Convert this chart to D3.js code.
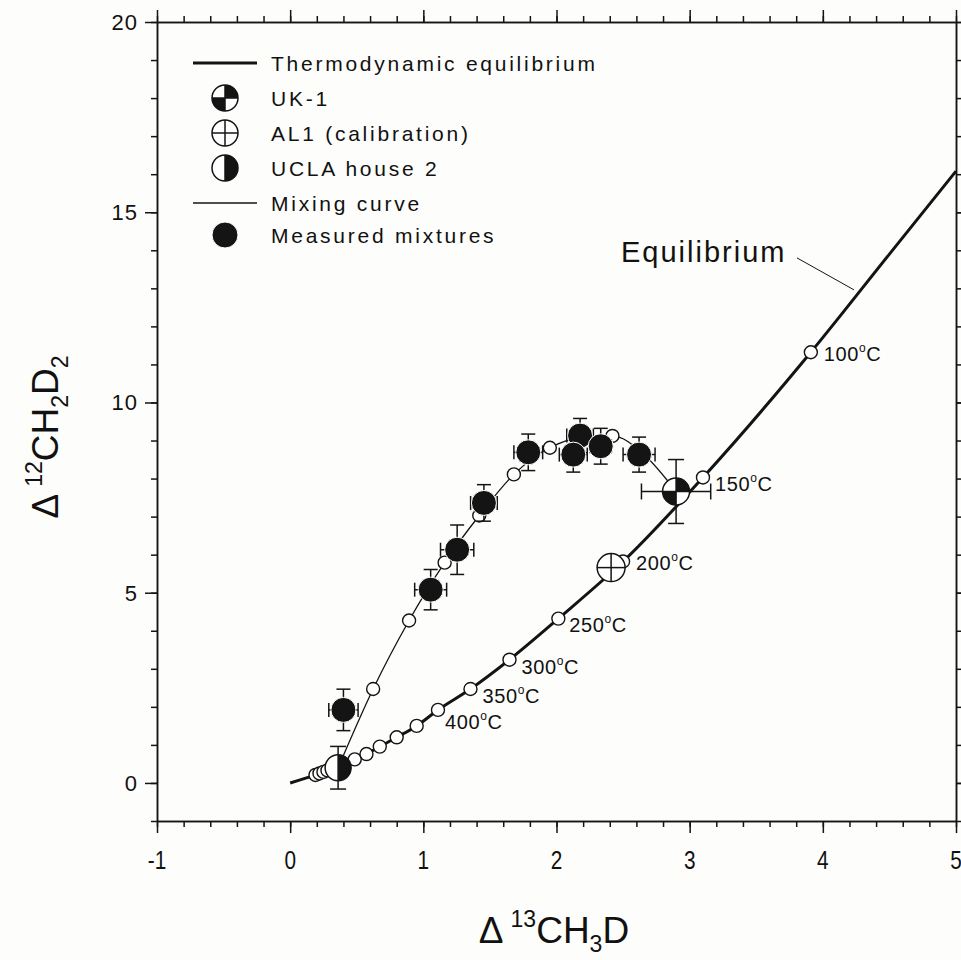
<!DOCTYPE html>
<html>
<head>
<meta charset="utf-8">
<script src="https://cdn.jsdelivr.net/npm/d3@7"></script>
<style>
  html, body { margin: 0; padding: 0; background: #fdfdfb; }
  svg { display: block; }
  text { font-family: Arial, "Liberation Sans", sans-serif; fill: #111; }
</style>
</head>
<body>
<svg id="chart" width="961" height="960"></svg>
<script>
// ---- Data -------------------------------------------------------------
// Thermodynamic equilibrium curve (Δ13CH3D, Δ12CH2D2)
const eqLineX = [0, 0.19, 0.25, 0.40, 0.485, 0.573, 0.673, 0.80, 0.95, 1.11, 1.354, 1.647, 2.014, 2.50, 3.10, 3.91, 4.5, 5.0];
const eqLineY = [0, 0.21, 0.29, 0.49, 0.62, 0.76, 0.955, 1.2, 1.5, 1.92, 2.47, 3.24, 4.32, 5.82, 8.03, 11.32, 13.9, 16.08];

// Temperature points on the equilibrium curve
const eqPtX = [3.91, 3.10, 2.50, 2.014, 1.647, 1.354, 1.11, 0.95, 0.80, 0.673, 0.573, 0.485, 0.40, 0.28, 0.25, 0.22, 0.19];
const eqPtY = [11.32, 8.03, 5.82, 4.32, 3.24, 2.47, 1.92, 1.5, 1.2, 0.955, 0.76, 0.62, 0.49, 0.33, 0.29, 0.25, 0.21];
const eqPtLabel = ["100", "150", "200", "250", "300", "350", "400", "", "", "", "", "", "", "", "", "", ""];

// Mixing curve between UCLA house 2 and UK-1
const mixX = [0.36, 0.623, 0.893, 1.16, 1.42, 1.68, 1.95, 2.19, 2.42, 2.66, 2.898];
const mixY = [0.40, 2.47, 4.27, 5.79, 7.03, 8.11, 8.81, 9.08, 9.12, 8.62, 7.66];

// Measured mixtures with 1σ errors
const measX    = [0.40, 1.055, 1.254, 1.455, 1.788, 2.177, 2.126, 2.332, 2.62];
const measY    = [1.92, 5.08, 6.13, 7.36, 8.69, 9.13, 8.63, 8.85, 8.63];
const measErrX = [0.11, 0.12, 0.125, 0.10, 0.108, 0.10, 0.105, 0.08, 0.12];
const measErrY = [0.545, 0.53, 0.65, 0.48, 0.48, 0.45, 0.46, 0.47, 0.46];

// End-member / calibration samples
const sampleName = ["UK-1", "AL1 (calibration)", "UCLA house 2"];
const sampleKey  = ["uk1", "al1", "ucla"];
const sampleX    = [2.898, 2.41, 0.36];
const sampleY    = [7.66, 5.66, 0.40];
const sampleErrX = [0.26, 0, 0];
const sampleErrY = [0.84, 0, 0.56];

// Axes
const xMajor = [-1, 0, 1, 2, 3, 4, 5];
const yMajor = [0, 5, 10, 15, 20];

// ---- Layout -----------------------------------------------------------
const svg = d3.select("#chart");
const x = d3.scaleLinear().domain([-1, 5]).range([157, 956]);
const y = d3.scaleLinear().domain([-1, 20]).range([821, 22]);
const ink = "#141414";

const xMinor = d3.range(-1, 5.0001, 0.2).map(v => +v.toFixed(1));
const yMinor = d3.range(-1, 20.0001, 1);

function axisLayer(axisFn, scale, values, size, transform) {
  const g = svg.append("g").attr("transform", transform)
    .call(axisFn(scale).tickValues(values).tickSize(size).tickSizeOuter(0).tickFormat(""));
  g.selectAll("path, line").attr("stroke", ink).attr("stroke-width", 1.5);
  return g;
}
// minor ticks
axisLayer(d3.axisBottom, x, xMinor, 6, "translate(0,821)");
axisLayer(d3.axisTop, x, xMinor, 6, "translate(0,22)");
axisLayer(d3.axisLeft, y, yMinor, 6, "translate(157,0)");
axisLayer(d3.axisRight, y, yMinor, 6, "translate(956,0)");
// major ticks
axisLayer(d3.axisBottom, x, xMajor, 12, "translate(0,821)");
axisLayer(d3.axisTop, x, xMajor, 12, "translate(0,22)");
axisLayer(d3.axisLeft, y, yMajor, 12, "translate(157,0)");
axisLayer(d3.axisRight, y, yMajor, 12, "translate(956,0)");

// tick labels
svg.append("g").selectAll("text").data(xMajor).join("text")
  .attr("transform", d => `translate(${x(d)},869) scale(0.8,1)`)
  .attr("text-anchor", "middle")
  .attr("font-size", 26)
  .text(d => String(d));
svg.append("g").selectAll("text").data(yMajor).join("text")
  .attr("x", 138).attr("y", d => y(d) + 8)
  .attr("text-anchor", "end")
  .attr("font-size", 22)
  .attr("letter-spacing", 1)
  .text(d => String(d));

// axis titles
const xt = svg.append("text").attr("x", 554).attr("y", 943)
  .attr("text-anchor", "middle").attr("font-size", 37);
xt.append("tspan").text("Δ");
xt.append("tspan").attr("font-size", 23).attr("dx", 7).attr("dy", -16).text("13");
xt.append("tspan").attr("dy", 16).text("CH");
xt.append("tspan").attr("font-size", 23).attr("dy", 9).text("3");
xt.append("tspan").attr("dy", -9).text("D");

const yt = svg.append("text").attr("transform", "translate(58,437) rotate(-90)")
  .attr("text-anchor", "middle").attr("font-size", 37);
yt.append("tspan").text("Δ");
yt.append("tspan").attr("font-size", 23).attr("dx", 7).attr("dy", -16).text("12");
yt.append("tspan").attr("dy", 16).text("CH");
yt.append("tspan").attr("font-size", 23).attr("dy", 10).text("2");
yt.append("tspan").attr("dy", -10).text("D");
yt.append("tspan").attr("font-size", 23).attr("dy", 10).text("2");

// ---- Curves -----------------------------------------------------------
const line = d3.line().x(d => x(d[0])).y(d => y(d[1])).curve(d3.curveMonotoneX);

svg.append("path").datum(d3.zip(eqLineX, eqLineY))
  .attr("d", line).attr("fill", "none").attr("stroke", ink).attr("stroke-width", 3);

svg.append("path").datum(d3.zip(mixX, mixY))
  .attr("d", line).attr("fill", "none").attr("stroke", ink).attr("stroke-width", 1.3);

// "Equilibrium" callout
svg.append("text").attr("x", 621).attr("y", 262)
  .attr("font-size", 29).attr("letter-spacing", 2).text("Equilibrium");
svg.append("line")
  .attr("x1", x(3.806)).attr("y1", y(13.80)).attr("x2", x(4.234)).attr("y2", y(12.96))
  .attr("stroke", ink).attr("stroke-width", 1);

// open circles on equilibrium curve (drawn from warm to cool so cool ones stack)
const eqPts = d3.zip(eqPtX, eqPtY, eqPtLabel).reverse();
svg.append("g").selectAll("circle").data(eqPts).join("circle")
  .attr("cx", d => x(d[0])).attr("cy", d => y(d[1])).attr("r", 6.5)
  .attr("fill", "#fff").attr("stroke", ink).attr("stroke-width", 1.4);

// temperature labels
const labelShift = { "100": [13, 2], "150": [12, 7], "200": [13, 1], "250": [11, 6],
                     "300": [12, 7], "350": [12, 7], "400": [7, 12] };
eqPts.filter(d => d[2]).forEach(d => {
  const [dx, dy] = labelShift[d[2]];
  const t = svg.append("text").attr("x", x(d[0]) + dx).attr("y", y(d[1]) + dy + 7)
    .attr("font-size", 20).attr("letter-spacing", 0.6);
  t.append("tspan").text(d[2]);
  t.append("tspan").attr("font-size", 12).attr("dy", -9).text("o");
  t.append("tspan").attr("dy", 9).text("C");
});

// open circles (model mixtures) on the mixing curve
svg.append("g").selectAll("circle").data(d3.zip(mixX, mixY).slice(1, -1)).join("circle")
  .attr("cx", d => x(d[0])).attr("cy", d => y(d[1])).attr("r", 6.5)
  .attr("fill", "#fff").attr("stroke", ink).attr("stroke-width", 1.4);

// ---- Error bars -------------------------------------------------------
function errorBars(g, cx, cy, ex, ey, cap) {
  if (ey > 0) {
    g.append("line").attr("x1", x(cx)).attr("x2", x(cx)).attr("y1", y(cy - ey)).attr("y2", y(cy + ey));
    [cy - ey, cy + ey].forEach(v => g.append("line")
      .attr("x1", x(cx) - cap).attr("x2", x(cx) + cap).attr("y1", y(v)).attr("y2", y(v)));
  }
  if (ex > 0) {
    g.append("line").attr("y1", y(cy)).attr("y2", y(cy)).attr("x1", x(cx - ex)).attr("x2", x(cx + ex));
    [cx - ex, cx + ex].forEach(v => g.append("line")
      .attr("y1", y(cy) - cap).attr("y2", y(cy) + cap).attr("x1", x(v)).attr("x2", x(v)));
  }
}
const eb = svg.append("g").attr("stroke", ink).attr("stroke-width", 1.5);
measX.forEach((v, i) => errorBars(eb, v, measY[i], measErrX[i], measErrY[i], 7));
sampleX.forEach((v, i) => errorBars(eb, v, sampleY[i], sampleErrX[i], sampleErrY[i], 8));

// ---- Symbols ----------------------------------------------------------
function symbol(g, key, cx, cy, r) {
  const s = g.append("g").attr("transform", `translate(${cx},${cy})`);
  if (key === "meas") {
    s.append("circle").attr("r", r).attr("fill", ink).attr("stroke", "#fff").attr("stroke-width", 1);
    return;
  }
  s.append("circle").attr("r", r).attr("fill", "#fff");
  const arc = d3.arc().innerRadius(0).outerRadius(r);
  if (key === "uk1") {
    s.append("path").attr("d", arc({ startAngle: 0, endAngle: Math.PI / 2 })).attr("fill", ink);
    s.append("path").attr("d", arc({ startAngle: Math.PI, endAngle: 1.5 * Math.PI })).attr("fill", ink);
  }
  if (key === "ucla") {
    s.append("path").attr("d", arc({ startAngle: 0, endAngle: Math.PI })).attr("fill", ink);
  }
  s.append("line").attr("x1", 0).attr("x2", 0).attr("y1", -r).attr("y2", r)
    .attr("stroke", ink).attr("stroke-width", 1.5);
  if (key !== "ucla") {
    s.append("line").attr("x1", -r).attr("x2", r).attr("y1", 0).attr("y2", 0)
      .attr("stroke", ink).attr("stroke-width", 1.5);
  }
  s.append("circle").attr("r", r).attr("fill", "none").attr("stroke", ink).attr("stroke-width", 1.5);
}

const marks = svg.append("g");
measX.forEach((v, i) => symbol(marks, "meas", x(v), y(measY[i]), 12.5));
const sampleR = { uk1: 13.5, al1: 14, ucla: 13 };
// draw UCLA first, then AL1, then UK-1
[2, 1, 0].forEach(i => symbol(marks, sampleKey[i], x(sampleX[i]), y(sampleY[i]), sampleR[sampleKey[i]]));

// ---- Legend -----------------------------------------------------------
const legendRows = [
  { type: "thick", label: "Thermodynamic equilibrium" },
  { type: "uk1",   label: sampleName[0] },
  { type: "al1",   label: sampleName[1] },
  { type: "ucla",  label: sampleName[2] },
  { type: "thin",  label: "Mixing curve" },
  { type: "meas",  label: "Measured mixtures" }
];
const legendY = [63, 98, 133, 168, 203, 235];
const lg = svg.append("g");
legendRows.forEach((row, i) => {
  const cy = legendY[i];
  if (row.type === "thick" || row.type === "thin") {
    lg.append("line").attr("x1", 193).attr("x2", 257).attr("y1", cy).attr("y2", cy)
      .attr("stroke", ink).attr("stroke-width", row.type === "thick" ? 3 : 1.3);
  } else {
    symbol(lg, row.type, 225, cy, 13);
  }
  lg.append("text").attr("x", 271).attr("y", cy + 7.5)
    .attr("font-size", 21).attr("letter-spacing", 2.75).text(row.label);
});
</script>
</body>
</html>
